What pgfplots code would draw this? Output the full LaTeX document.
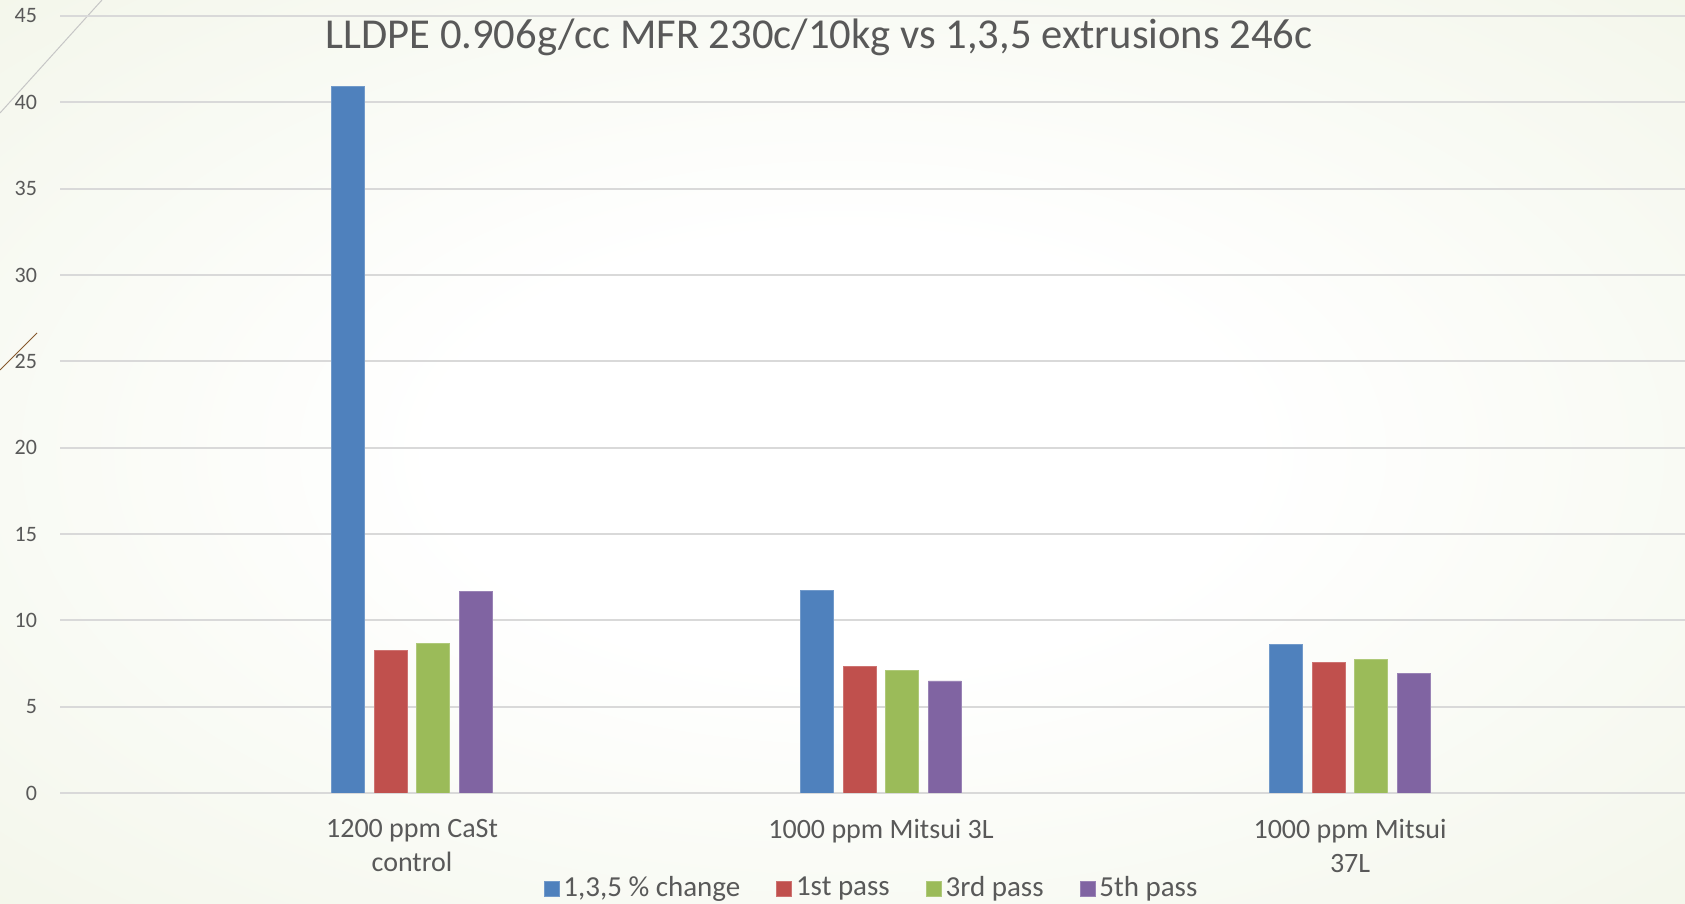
\documentclass[border=0pt]{standalone}
\usepackage{pgfplots}
\pgfplotsset{compat=1.18}
\usepackage{fontspec}
\setmainfont{Carlito}
\definecolor{cblue}{HTML}{4F81BD}
\definecolor{cred}{HTML}{C0504D}
\definecolor{cgreen}{HTML}{9BBB59}
\definecolor{cpurple}{HTML}{8064A2}
\definecolor{gridgray}{HTML}{D9D9D9}
\definecolor{textgray}{HTML}{595959}
\definecolor{bggreen}{RGB}{231,236,212}
\definecolor{bgmid}{RGB}{239,243,227}
\pgfdeclareradialshading{bgshade}{\pgfpoint{0bp}{0bp}}{color(0bp)=(white); color(12bp)=(white); color(45bp)=(bgmid); color(71bp)=(bggreen)}
\begin{document}
\begin{tikzpicture}
\useasboundingbox (0bp,0bp) rectangle (842.5bp,452bp);
\clip (0bp,0bp) rectangle (842.5bp,452bp);
\shade[shading=bgshade] (0bp,0bp) rectangle (842.5bp,452bp);
\draw[gray!45, line width=0.5bp] (0bp,395.5bp) -- (51bp,452bp);
\draw[brown!70!black, line width=0.5bp] (0bp,267bp) -- (18.5bp,285.5bp);
\begin{axis}[
  at={(30bp,55.5bp)}, anchor=south west,
  scale only axis, width=812.5bp, height=388.5bp,
  xmin=-0.7505, xmax=2.714, ymin=0, ymax=45,
  ytick={0,5,...,45},
  xtick={0,1,2},
  xticklabels={{1200 ppm CaSt\\control},{1000 ppm Mitsui 3L},{1000 ppm Mitsui\\37L}},
  ymajorgrids, grid style={draw=gridgray, line width=1bp},
  axis line style={draw=none},
  major tick length=0pt, tick style={draw=none},
  /pgf/number format/assume math mode=true,
  tick label style={text=textgray},
  yticklabel style={font=\fontsize{11bp}{13bp}\selectfont, anchor=east, xshift=-8bp},
  xticklabel style={font=\fontsize{14bp}{17bp}\selectfont, align=center, anchor=north, yshift=-9.5bp},
  ybar, bar width=16.5bp,
  legend columns=4,
  legend style={at={(0.5,-0.1223)}, anchor=center, draw=none, fill=none,
    font=\fontsize{14.5bp}{16bp}\selectfont, text=textgray,
    /tikz/every even column/.append style={column sep=16bp}},
  legend image code/.code={\fill[#1] (0bp,-4bp) rectangle (7.5bp,3.5bp);},
]
\addplot[fill=cblue, draw=cblue!80!white, line width=0.4bp, bar shift=-31.9bp] coordinates {(0,40.9) (1,11.71) (2,8.61)};
\addplot[fill=cred, draw=cred!80!white, line width=0.4bp, bar shift=-10.6bp] coordinates {(0,8.26) (1,7.35) (2,7.57)};
\addplot[fill=cgreen, draw=cgreen!80!white, line width=0.4bp, bar shift=10.6bp] coordinates {(0,8.65) (1,7.10) (2,7.76)};
\addplot[fill=cpurple, draw=cpurple!80!white, line width=0.4bp, bar shift=31.9bp] coordinates {(0,11.66) (1,6.49) (2,6.91)};
\legend{{1,3,5 \% change}, {1st pass}, {3rd pass}, {5th pass}}
\end{axis}
\node[text=textgray, font=\fontsize{21.3bp}{25bp}\selectfont] at (409.5bp,433.2bp) {LLDPE 0.906g/cc MFR 230c/10kg vs 1,3,5 extrusions 246c};
\end{tikzpicture}
\end{document}
